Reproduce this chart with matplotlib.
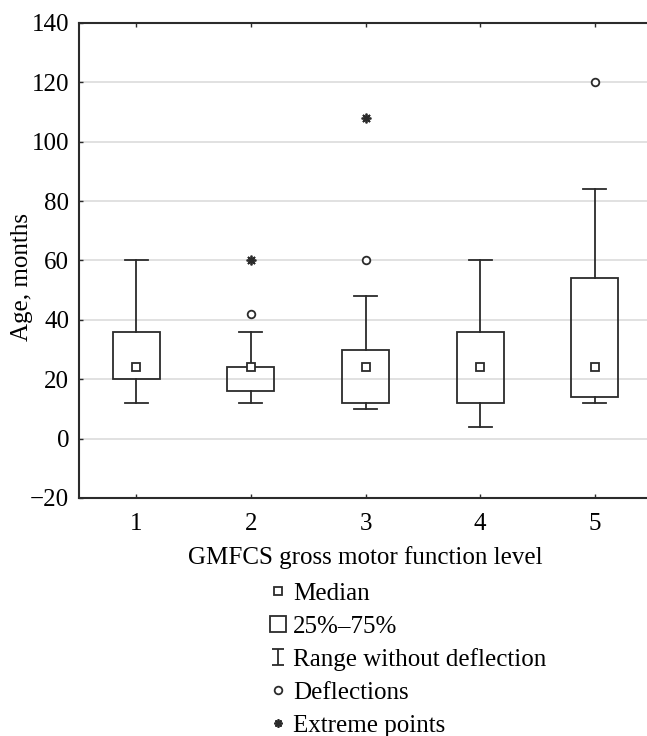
import matplotlib.pyplot as plt
import numpy as np
from matplotlib.lines import Line2D
from matplotlib.path import Path

plt.rcParams['font.family'] = ['Liberation Serif', 'DejaVu Serif']
plt.rcParams['font.size'] = 18

levels = [1, 2, 3, 4, 5]
medians = [24, 24, 24, 24, 24]
q25 = [20, 16, 12, 12, 14]
q75 = [36, 24, 30, 36, 54]
whisk_lo = [12, 12, 10, 4, 12]
whisk_hi = [60, 36, 48, 60, 84]
outlier_x = [2, 3, 5]
outlier_y = [42, 60, 120]
extreme_x = [2, 3]
extreme_y = [60, 108]

fig = plt.figure(figsize=(6.47, 7.36), dpi=100)
ax = fig.add_axes([0.122, 0.3234, 0.886, 0.6454])

lc = '#2b2b2b'
box_w = 0.41
cap_w = 0.2
for x, m, lo, hi, wl, wh in zip(levels, medians, q25, q75, whisk_lo, whisk_hi):
    ax.add_patch(plt.Rectangle((x - box_w / 2, lo), box_w, hi - lo,
                               fill=False, ec=lc, lw=1.3, zorder=3))
    ax.plot([x, x], [hi, wh], color=lc, lw=1.3, zorder=3)
    ax.plot([x, x], [wl, lo], color=lc, lw=1.3, zorder=3)
    ax.plot([x - cap_w / 2, x + cap_w / 2], [wh, wh], color=lc, lw=1.3, zorder=3)
    ax.plot([x - cap_w / 2, x + cap_w / 2], [wl, wl], color=lc, lw=1.3, zorder=3)
    ax.plot(x, m, marker='s', ms=6, mfc='white', mec=lc, mew=1.3, zorder=4)

ax.plot(outlier_x, outlier_y, 'o', ms=5.5, mfc='white', mec=lc, mew=1.3, ls='none', zorder=4)
ax.plot(extreme_x, extreme_y, marker=(8, 2, 0), ms=7, color=lc, mew=1.3, ls='none', zorder=4)

ax.set_xlim(0.5, 5.5)
ax.set_ylim(-20, 140)
ax.set_xticks(levels)
ax.set_yticks(np.arange(-20, 141, 20))
ax.set_yticklabels(['\u221220'] + [str(v) for v in range(0, 141, 20)])
ax.grid(axis='y', color='#dcdcdc', lw=1.2, zorder=0)
ax.tick_params(direction='in', length=3, width=1, colors=lc, labelcolor='black',
               top=True, pad=7)
ax.tick_params(axis='x', pad=11)
for s in ax.spines.values():
    s.set_color(lc)
    s.set_linewidth(1.5)
ax.spines['right'].set_visible(False)

ax.set_xlabel('GMFCS gross motor function level', labelpad=8)
ax.set_ylabel('Age, months')
ax.yaxis.set_label_coords(-0.08, 0.465)

range_path = Path([(-0.4, 0.5), (0.4, 0.5), (0, 0.5), (0, -0.5), (-0.4, -0.5), (0.4, -0.5)],
                  [Path.MOVETO, Path.LINETO, Path.MOVETO, Path.LINETO, Path.MOVETO, Path.LINETO])
handles = [
    Line2D([], [], marker='s', ms=6, mfc='white', mec=lc, mew=1.3, ls='none'),
    Line2D([], [], marker='s', ms=12, mfc='white', mec=lc, mew=1.3, ls='none'),
    Line2D([], [], marker=range_path, ms=11, color=lc, mew=1.3, ls='none'),
    Line2D([], [], marker='o', ms=5.5, mfc='white', mec=lc, mew=1.3, ls='none'),
    Line2D([], [], marker=(8, 2, 0), ms=6, color=lc, mew=1.3, ls='none'),
]
labels = ['Median', '25%\u201375%', 'Range without deflection', 'Deflections', 'Extreme points']
fig.legend(handles, labels, loc='upper left', bbox_to_anchor=(0.414, 0.209),
           frameon=False, handlelength=0.8, handletextpad=0.2, labelspacing=0.42,
           borderpad=0, borderaxespad=0)

fig.savefig('out.png', dpi=100)
